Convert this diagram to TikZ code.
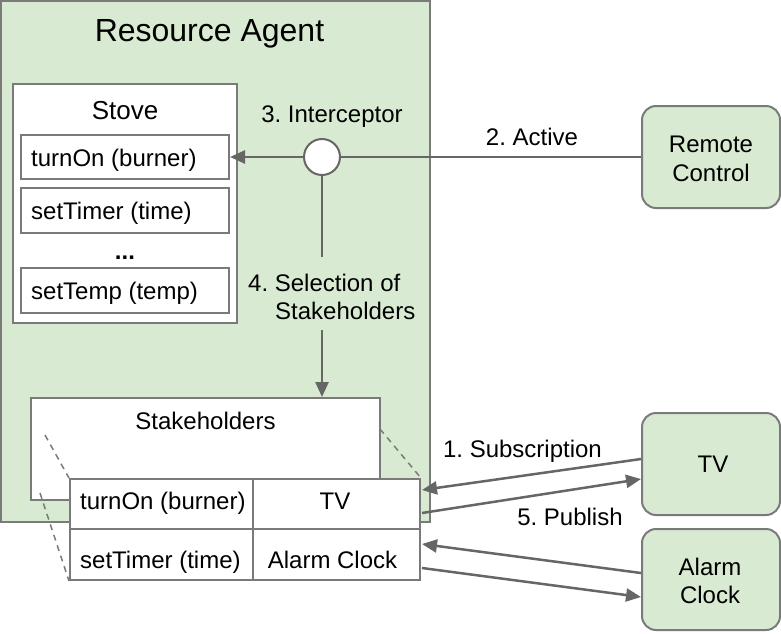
\documentclass[tikz,border=0pt]{standalone}
\usepackage{fontspec}
\setmainfont{Liberation Sans}
\usetikzlibrary{arrows.meta,calc}
\definecolor{agentgreen}{HTML}{D9EAD3}
\definecolor{bordergray}{HTML}{7A7A7A}
\definecolor{linegray}{HTML}{666666}
\frenchspacing
\begin{document}
\frenchspacing
\begin{tikzpicture}[x=1pt,y=-1pt,
  box/.style={draw=bordergray, line width=2pt, fill=white, rectangle, inner sep=0pt},
  gbox/.style={box, fill=agentgreen},
  rbox/.style={gbox, rounded corners=14pt},
  txt/.style={inner sep=0pt, font=\fontsize{24}{29}\selectfont\frenchspacing, anchor=base},
  ltxt/.style={txt, anchor=base west},
  conn/.style={draw=linegray, line width=2.5pt},
  arr/.style={conn, -{Triangle[length=15pt,width=13pt]}},
  dashline/.style={draw=bordergray, line width=1.5pt, dash pattern=on 6pt off 5pt}
]
\useasboundingbox (0,0) rectangle (781,633);

% Resource Agent
\node[gbox, minimum width=429pt, minimum height=521pt] (ra) at (215.5,261.5) {};
\node[txt, font=\fontsize{32}{38}\selectfont] (ratitle) at (209.5,41) {Resource Agent};

% Stove
\node[box, minimum width=224pt, minimum height=239pt] (stove) at (125,203.5) {};
\node[txt, font=\fontsize{26}{31}\selectfont] (stovet) at (125,119) {Stove};
\node[box, minimum width=208pt, minimum height=44pt] (m1) at (125,157) {};
\node[box, minimum width=208pt, minimum height=45pt] (m2) at (125,210.5) {};
\node[box, minimum width=208pt, minimum height=45pt] (m3) at (125,290.5) {};
\node[ltxt] (m1t) at (31,166) {turnOn (burner)};
\node[ltxt] (m2t) at (31,219.5) {setTimer (time)};
\node[txt] (dots) at (125,259) {\textbf{...}};
\node[ltxt] (m3t) at (31,299.5) {setTemp (temp)};

% Interceptor
\node[draw=linegray, line width=2pt, fill=white, circle, minimum size=36pt, inner sep=0pt] (ic) at (322,157) {};
\node[txt] (ict) at (332,122) {3. Interceptor};

% Remote control
\node[rbox, minimum width=138pt, minimum height=102pt] (rc) at (711,157) {};
\node[txt] (rct1) at (711,152) {Remote};
\node[txt] (rct2) at (711,181) {Control};
\node[txt] (actt) at (532,145) {2. Active};

\draw[conn] (ic.east) -- (rc.west);
\draw[arr] (ic.west) -- (m1.east);

% Selection of stakeholders
\coordinate (selend) at (322,257);
\coordinate (selstart) at (322,330);
\node[ltxt] (selt1) at (248,291) {4. Selection of};
\node[ltxt] (selt2) at (275,319.5) {Stakeholders};

% Stakeholders box
\node[box, minimum width=349pt, minimum height=102pt] (sh) at (205.5,449) {};
\node[txt] (sht) at (205.5,429.5) {Stakeholders};
\draw[conn] (ic.south) -- (selend);
\draw[arr] (selstart) -- (ic |- sh.north);

% Table cells
\node[box, minimum width=183pt, minimum height=50pt] (c11) at (161.5,504) {};
\node[box, minimum width=167pt, minimum height=50pt] (c12) at (336.5,504) {};
\node[box, minimum width=183pt, minimum height=51pt] (c21) at (161.5,554.5) {};
\node[box, minimum width=167pt, minimum height=51pt] (c22) at (336.5,554.5) {};

% dashed zoom lines
\coordinate (dA) at (45,435);
\coordinate (dB) at (40,493);
\coordinate (dC) at (380,429);
\draw[dashline] (dA) -- (c11.north west);
\draw[dashline] (dB) -- (c21.south west);
\draw[dashline] (dC) -- (c12.north east);

% redraw table on top of dashed lines
\node[box, minimum width=183pt, minimum height=50pt] at (161.5,504) {};
\node[box, minimum width=167pt, minimum height=50pt] at (336.5,504) {};
\node[box, minimum width=183pt, minimum height=51pt] at (161.5,554.5) {};
\node[box, minimum width=167pt, minimum height=51pt] at (336.5,554.5) {};

\node[ltxt] (c11t) at (80,509.5) {turnOn (burner)};
\node[txt] (c12t) at (335,509.5) {TV};
\node[ltxt] (c21t) at (80,568.5) {setTimer (time)};
\node[txt] (c22t) at (332.5,568.5) {Alarm Clock};

% TV and Alarm Clock
\node[rbox, minimum width=138pt, minimum height=102pt] (tv) at (711,464) {};
\node[txt] (tvt) at (713,472) {TV};
\node[rbox, minimum width=138pt, minimum height=101pt] (ac) at (711,579.5) {};
\node[txt] (act1) at (710,575) {Alarm};
\node[txt] (act2) at (710,603.5) {Clock};

\draw[arr] ([yshift=5pt]tv.west) -- ([yshift=14pt,xshift=1pt]c12.east);
\draw[arr] ([yshift=-9pt,xshift=1pt]c12.east) -- ([yshift=-15pt]tv.west);
\draw[arr] ([yshift=6.5pt]ac.west) -- ([yshift=10.5pt,xshift=1pt]c22.east);
\draw[arr] ([yshift=-13.5pt,xshift=1pt]c22.east) -- ([yshift=-17.5pt]ac.west);

\node[txt] (subt) at (522.5,457.5) {1. Subscription};
\node[txt] (pubt) at (570,525) {5. Publish};
\end{tikzpicture}
\end{document}
